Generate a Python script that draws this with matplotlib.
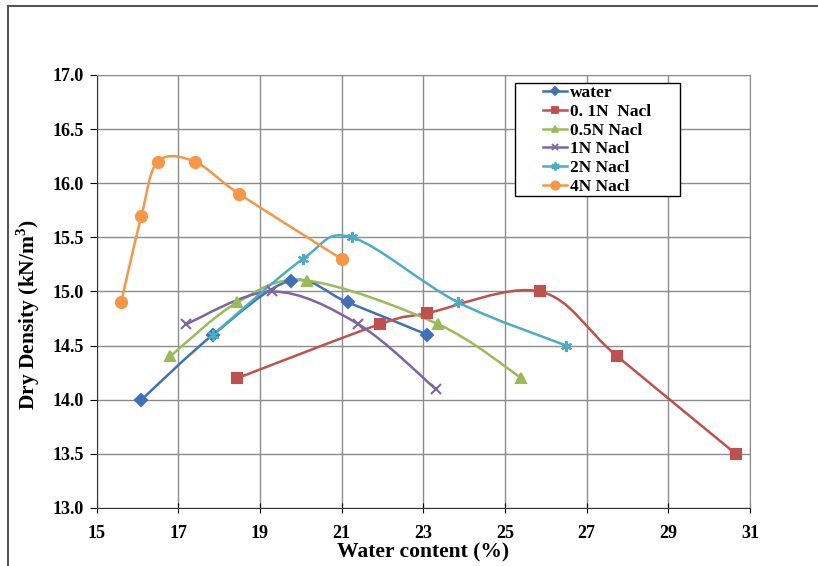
import numpy as np
import matplotlib
matplotlib.use("Agg")
import matplotlib.pyplot as plt
from matplotlib.path import Path
from matplotlib.patches import PathPatch, Rectangle
from matplotlib.lines import Line2D

# data
water_x = [16.1, 17.85, 19.75, 21.15, 23.1]
water_y = [14.0, 14.6, 15.1, 14.9, 14.6]
n01_x = [18.45, 21.95, 23.1, 25.85, 27.75, 30.65]
n01_y = [14.2, 14.7, 14.8, 15.0, 14.4, 13.5]
n05_x = [16.8, 18.45, 20.15, 23.35, 25.4]
n05_y = [14.4, 14.9, 15.1, 14.7, 14.2]
n1_x = [17.2, 19.3, 21.4, 23.3]
n1_y = [14.7, 15.0, 14.7, 14.1]
n2_x = [17.85, 20.05, 21.25, 23.85, 26.5]
n2_y = [14.6, 15.3, 15.5, 14.9, 14.5]
n4_x = [15.6, 16.1, 16.5, 17.4, 18.5, 21.0]
n4_y = [14.9, 15.7, 16.2, 16.2, 15.9, 15.3]

labels = ["water", "0. 1N  Nacl", "0.5N Nacl", "1N Nacl", "2N Nacl", "4N Nacl"]
series = [(water_x, water_y), (n01_x, n01_y), (n05_x, n05_y),
          (n1_x, n1_y), (n2_x, n2_y), (n4_x, n4_y)]
colors = ["#4070B8", "#C0504D", "#9BBB59", "#8064A2", "#4BACC6", "#F79646"]
markers = ["D", "s", "^", "x", (6, 2, 0), "o"]
msizes = [6, 7, 7, 7, 8, 8]


def smooth_path(x, y):
    # Excel-style smoothed line: cubic bezier through the points
    p = np.column_stack([x, y])
    n = len(p)
    verts = [p[0]]
    codes = [Path.MOVETO]
    for i in range(n - 1):
        p0 = p[i - 1] if i > 0 else p[i]
        p3 = p[i + 2] if i + 2 < n else p[i + 1]
        c1 = p[i] + (p[i + 1] - p0) / 6.0
        c2 = p[i + 1] - (p3 - p[i]) / 6.0
        verts += [c1, c2, p[i + 1]]
        codes += [Path.CURVE4] * 3
    return Path(verts, codes)


plt.rcParams['font.family'] = ['Liberation Serif', 'DejaVu Serif']
plt.rcParams['font.weight'] = 'bold'
plt.rcParams['mathtext.fontset'] = 'custom'
plt.rcParams['mathtext.bf'] = 'Liberation Serif:bold'

fig = plt.figure(figsize=(8.18, 5.66), dpi=100)
ax = fig.add_axes([0.118, 0.1025, 0.799, 0.765])

handles = []
for (x, y), c, m, ms, lab in zip(series, colors, markers, msizes, labels):
    ax.add_patch(PathPatch(smooth_path(x, y), facecolor="none", edgecolor=c,
                           lw=1.8, zorder=3))
    ax.plot(x, y, linestyle="none", marker=m, color=c, ms=ms, mew=1.5, zorder=4)
    handles.append(Line2D([], [], color=c, lw=1.8, marker=m, ms=ms - 2, mew=1.3))

ax.set_xlim(15, 31)
ax.set_ylim(13.0, 17.0)
ax.set_xticks(np.arange(15, 32, 2))
ax.set_yticks(np.arange(13.0, 17.01, 0.5))
ax.set_yticklabels([f"{v:.1f}" for v in np.arange(13.0, 17.01, 0.5)])
ax.grid(True, color="#8c8c8c", lw=1.0)
ax.set_axisbelow(True)
for s in ["top", "right"]:
    ax.spines[s].set_color("#8c8c8c")
for s in ["left", "bottom"]:
    ax.spines[s].set_color("#333333")
ax.tick_params(axis="x", direction="inout", length=7, labelsize=13, pad=9)
ax.tick_params(axis="y", direction="out", length=5, labelsize=13, pad=4)
for t in ax.get_xticklabels() + ax.get_yticklabels():
    t.set_fontweight("bold")

ax.set_xlabel("Water content (%)", fontsize=15.5, fontweight="bold", labelpad=0)
ax.set_ylabel("Dry Density (kN/m$^\\mathbf{3}$)", fontsize=15.5, fontweight="bold")
ax.yaxis.set_label_coords(-0.084, 0.446)

# legend box drawn separately so it can be wider than its entries
ax.add_patch(Rectangle((0.640, 0.7206), 0.253, 0.261, transform=ax.transAxes,
                       facecolor="white", edgecolor="black", lw=1.0, zorder=5))
leg = ax.legend(handles, labels, loc="upper left", bbox_to_anchor=(0.683, 0.977),
                prop={"weight": "bold", "size": 12.5}, frameon=False,
                handlelength=1.4, handletextpad=0.15, labelspacing=0.15,
                borderpad=0, borderaxespad=0)
leg.set_zorder(6)

# outer frame of the picture
fig.add_artist(Line2D([8 / 818, 8 / 818], [0, 1 - 6 / 566], color="#555555",
                      lw=1.5, transform=fig.transFigure))
fig.add_artist(Line2D([8 / 818, 1], [1 - 6 / 566, 1 - 6 / 566], color="#555555",
                      lw=1.5, transform=fig.transFigure))

fig.savefig("out.png", dpi=100)
